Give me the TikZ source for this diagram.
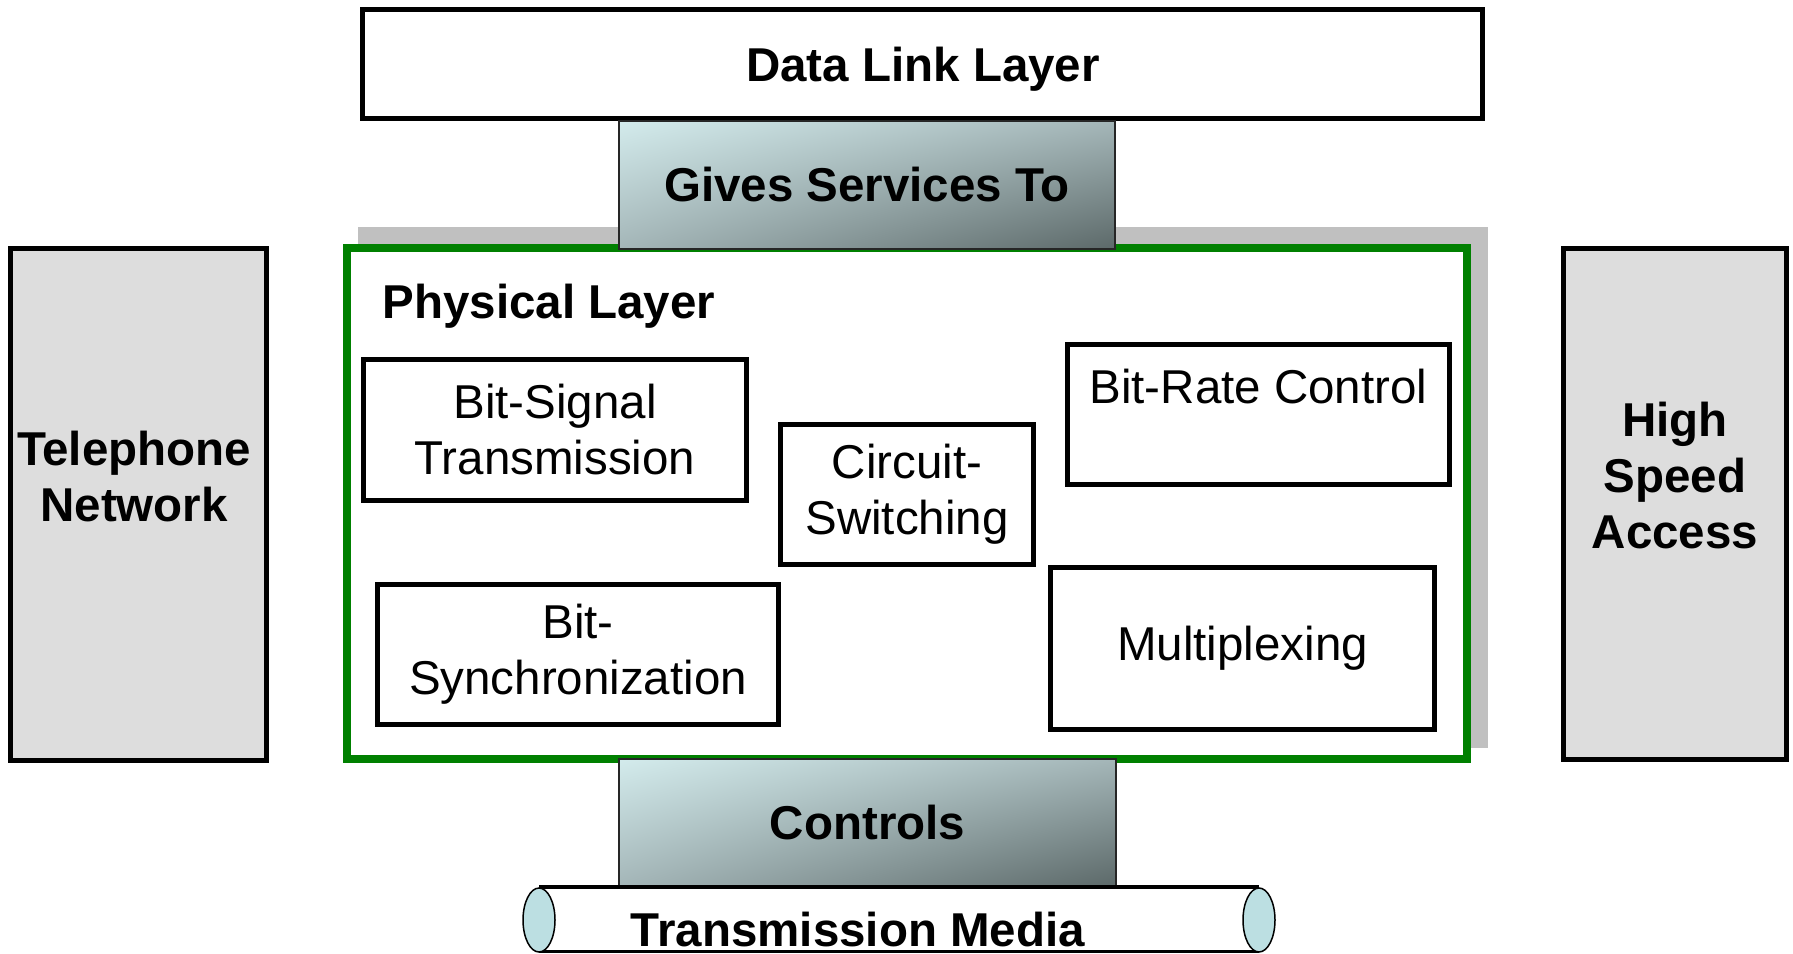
\documentclass[tikz,border=0pt]{standalone}
\usepackage{fontspec}
\setmainfont{Liberation Sans}
\usetikzlibrary{shadings}

\definecolor{sidegray}{RGB}{221,221,221}
\definecolor{shadowgray}{RGB}{192,192,192}
\definecolor{layergreen}{RGB}{0,128,0}
\definecolor{pipeblue}{RGB}{188,223,226}
\definecolor{gradlight}{RGB}{211,235,236}
\definecolor{gradmid}{RGB}{164,182,184}
\definecolor{graddark}{RGB}{92,105,105}

\begin{document}
\begin{tikzpicture}[x=1pt,y=-1pt,
  txt/.style={font=\fontsize{47.5}{56}\selectfont, align=center},
  btxt/.style={font=\fontsize{47.5}{56}\selectfont\bfseries, align=center},
  funcbox/.style={rectangle, draw=black, line width=5pt, fill=white, inner sep=0pt, txt},
  sidebox/.style={rectangle, draw=black, line width=5pt, fill=sidegray, inner sep=0pt},
  gradbox/.style={rectangle, draw=black!85, line width=2pt, inner sep=0pt, btxt,
    upper left=gradlight, upper right=gradmid, lower left=gradmid, lower right=graddark},
  endcap/.style={draw=black, line width=1.5pt, fill=pipeblue},
]
\useasboundingbox (0,0) rectangle (1793,953);

% side blocks
\node[sidebox, minimum width=256, minimum height=512] (tel) at (138.5,504.5) {};
\node[btxt] (teltxt) at (134,476.5) {Telephone\\Network};
\node[sidebox, minimum width=223, minimum height=511] (hsa) at (1675,504) {};
\node[btxt] (hsatxt) at (1675,476) {High\\Speed\\Access};

% physical layer frame with its drop shadow
\fill[shadowgray] (358,227) rectangle (1488,748);
\node[rectangle, draw=layergreen, line width=8pt, fill=white, inner sep=0pt,
      minimum width=1120, minimum height=511] (phys) at (907,503.5) {};
\node[btxt, anchor=base west] (phystxt) at (379,318) {Physical Layer};

% functions of the physical layer
\node[funcbox, minimum width=383, minimum height=141] (sig) at (555,430) {Bit-Signal\\Transmission};
\node[funcbox, minimum width=253, minimum height=140] (circ) at (907,494.5) {Circuit-\\Switching};
\node[funcbox, minimum width=382, minimum height=140] (rate) at (1258.5,414.5) {Bit-Rate Control\\\mbox{}};
\node[funcbox, minimum width=401, minimum height=140] (sync) at (578,654.5) {Bit-\\Synchronization};
\node[funcbox, minimum width=384, minimum height=162] (mux) at (1242.5,648.5) {Multiplexing};

% data link layer on top
\node[rectangle, draw=black, line width=5pt, fill=white, inner sep=0pt,
      minimum width=1120, minimum height=109] (dll) at (922.5,64) {};
\node[btxt] (dlltxt) at (923,69.5) {Data Link Layer};

% relation boxes
\node[gradbox, shade, minimum width=496, minimum height=128] (gives) at (867,185) {Gives Services To};
\node[gradbox, shade, minimum width=497, minimum height=127] (ctrl) at (867.5,822.5) {Controls};

% transmission media pipe
\coordinate (pl) at (539,920);
\coordinate (pr) at (1259,920);
\fill[white] (539,887) rectangle (1259,951);
\draw[line width=4pt] (539,887) -- (1259,887);
\draw[line width=3pt] (539,951) -- (1259,951);
\draw[endcap] (pl) ellipse [x radius=16, y radius=32];
\draw[endcap] (pr) ellipse [x radius=16, y radius=32];
\node[btxt] (media) at (858,929.5) {Transmission Media};
\end{tikzpicture}
\end{document}
